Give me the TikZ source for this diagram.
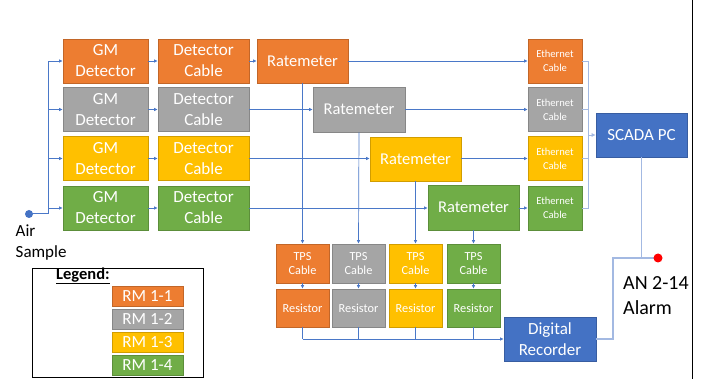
\documentclass[tikz,border=0pt]{standalone}
\usepackage{fontspec}
\setmainfont{Carlito}
\usetikzlibrary{arrows.meta}
\definecolor{rmorange}{HTML}{ED7D31}
\definecolor{rmgray}{HTML}{A5A5A5}
\definecolor{rmyellow}{HTML}{FFC000}
\definecolor{rmgreen}{HTML}{70AD47}
\definecolor{rmblue}{HTML}{4472C4}
\definecolor{wire}{HTML}{4A78C8}
\definecolor{wirelight}{HTML}{A3B9E2}
\definecolor{alarmred}{HTML}{FF0000}
\tikzset{
  blk/.style={rectangle, fill=#1, draw=#1!82!black, line width=0.6pt,
    text=white, align=center, inner sep=1pt},
  big/.style={font=\fontsize{17}{21}\selectfont},
  mid/.style={font=\fontsize{16.5}{20}\selectfont},
  small/.style={font=\fontsize{12.3}{14.5}\selectfont},
  tiny/.style={font=\fontsize{10.6}{14}\selectfont},
  conn/.style={draw=wire, line width=0.7pt, -{Latex[length=3.5pt,width=3.5pt]}},
  plain/.style={draw=wire, line width=0.7pt},
  lconn/.style={draw=wirelight, line width=1.2pt, -{Latex[length=4pt,width=4pt]}},
  lplain/.style={draw=wirelight, line width=1.2pt},
}
\begin{document}
\begin{tikzpicture}[x=1pt,y=-1pt]
\useasboundingbox (0,0) rectangle (701,379);
\fill[white] (0,0) rectangle (701,379);

% right page edge
\draw[black, line width=0.9pt] (692,0) -- (692,379);

% per-channel boxes: detector, detector cable, ethernet cable
\foreach \i/\c/\y in {1/rmorange/61, 2/rmgray/109.5, 3/rmyellow/158.5, 4/rmgreen/208} {
  \node[blk=\c, big, minimum width=85, minimum height=44] (gm\i) at (105.5,\y) {GM\\Detector};
  \node[blk=\c, big, minimum width=91, minimum height=44] (dc\i) at (203.5,\y) {Detector\\Cable};
  \node[blk=\c, tiny, minimum width=54, minimum height=44] (eth\i) at (555,\y) {Ethernet\\Cable};
}

% ratemeters
\node[blk=rmorange, mid, minimum width=91, minimum height=44] (rm1) at (302.5,61) {Ratemeter};
\node[blk=rmgray,   mid, minimum width=92, minimum height=45] (rm2) at (359,109.5) {Ratemeter};
\node[blk=rmyellow, mid, minimum width=91, minimum height=44] (rm3) at (415.5,159) {Ratemeter};
\node[blk=rmgreen,  mid, minimum width=91, minimum height=45] (rm4) at (473.5,207.5) {Ratemeter};

% TPS cables and resistors
\foreach \i/\c/\x in {1/rmorange/302.5, 2/rmgray/358.5, 3/rmyellow/415.5, 4/rmgreen/473.5} {
  \node[blk=\c, small, minimum width=53, minimum height=39] (tps\i) at (\x,263.5) {TPS\\Cable};
  \node[blk=\c, small, minimum width=53, minimum height=38] (res\i) at (\x,308) {Resistor};
}

% SCADA and recorder
\node[blk=rmblue, big, minimum width=91, minimum height=44] (scada) at (641.5,135) {SCADA PC};
\node[blk=rmblue, big, minimum width=92, minimum height=44] (rec) at (550,339) {Digital\\Recorder};

% air sample inlet
\fill[rmblue] (29,214) circle (4);
\coordinate (air) at (29,214);
\coordinate (split) at (48,214);
\node[anchor=west, align=left, big, inner sep=0pt] (airlbl) at (15.5,243) {Air\\Sample};
\draw[plain, line width=1pt] (air) -- (split);
\foreach \i in {1,2,3,4} {
  \draw[conn] (split) |- (gm\i.west);
  \draw[conn] (gm\i) -- (dc\i);
  \draw[conn] (dc\i.east) -- (dc\i.east -| rm\i.west);
  \draw[conn] (rm\i.east |- eth\i.west) -- (eth\i.west);
  \draw[conn] (rm\i.south) -- (tps\i.north);
  \draw[conn] (tps\i) -- (res\i);
}

% ethernet bus to SCADA
\coordinate (ebus) at (588,135);
\foreach \i in {1,2,3,4} {
  \draw[lplain, line width=0.9pt] (eth\i.east) -| (ebus);
}
\draw[lconn, line width=0.9pt] (ebus) -- (scada.west);

% resistor bus to recorder
\coordinate (rbus) at (302.5,339);
\foreach \i in {1,2,3,4} {
  \draw[plain] (res\i.south) -- (res\i.south |- rbus);
}
\draw[conn] (rbus) -- (rec.west);

% alarm
\coordinate (alarm) at (658,258);
\draw[lconn] (scada.south) |- (alarm);
\draw[lconn] (rec.east) -- (613,339) |- (alarm);
\fill[alarmred] (alarm) circle (4.5);
\node[anchor=west, align=left, inner sep=0pt, font=\fontsize{20}{25}\selectfont] (alarmlbl) at (623,295.5) {AN 2-14\\Alarm};

% legend
\node[draw=black, line width=1pt, minimum width=171, minimum height=108, inner sep=0pt] (legend) at (117.5,323) {};
\node[anchor=south west, inner sep=0pt, font=\fontsize{16.5}{20}\selectfont\bfseries] (legtitle) at (56,284) {\underline{Legend:}};
\node[blk=rmorange, big, minimum width=71, minimum height=20] (lg1) at (147.5,296) {RM 1-1};
\node[blk=rmgray,   big, minimum width=71, minimum height=20] (lg2) at (147.5,319) {RM 1-2};
\node[blk=rmyellow, big, minimum width=71, minimum height=20] (lg3) at (147.5,342) {RM 1-3};
\node[blk=rmgreen,  big, minimum width=71, minimum height=20] (lg4) at (147.5,365) {RM 1-4};
\end{tikzpicture}
\end{document}
